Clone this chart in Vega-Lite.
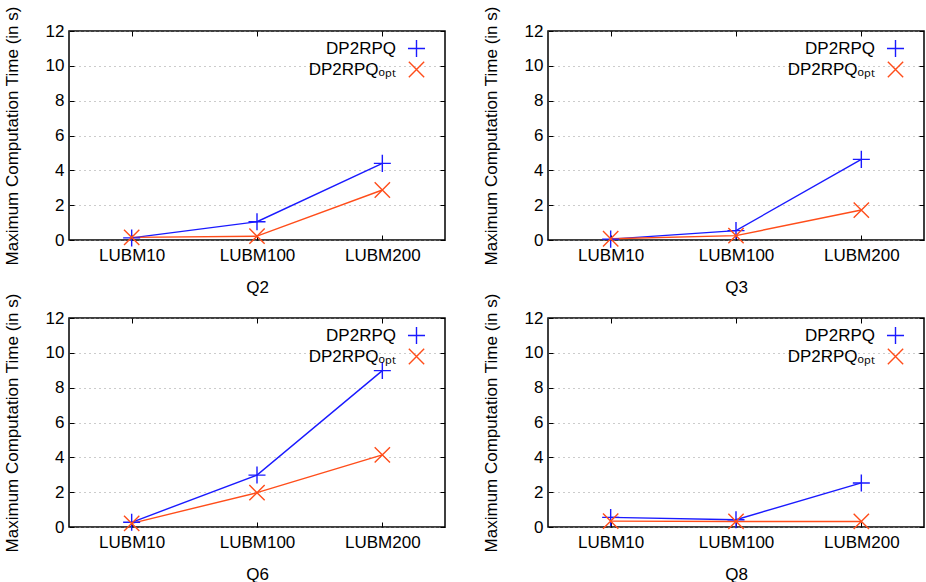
{
  "$schema": "https://vega.github.io/schema/vega-lite/v6.json",
  "padding": {"left": 2, "top": 5, "right": 0, "bottom": 0},
  "background": "white",
  "config": {
    "font": "Liberation Sans",
    "view": {"stroke": "black", "strokeWidth": 1.5},
    "axis": {
      "labelFont": "Liberation Sans",
      "titleFont": "Liberation Sans",
      "labelFontSize": 17,
      "titleFontSize": 17,
      "titleFontWeight": "normal",
      "labelColor": "black",
      "titleColor": "black",
      "domain": false,
      "tickColor": "black",
      "tickSize": -5,
      "tickWidth": 1
    },
    "axisX": {"labelPadding": 12, "titlePadding": 16, "grid": false, "labelAngle": 0},
    "axisY": {
      "labelPadding": 10,
      "titlePadding": 24,
      "gridColor": "#999999",
      "gridDash": [1, 4],
      "gridWidth": 1
    },
    "legend": {
      "orient": "none",
      "legendX": 338,
      "legendY": 8,
      "labelFont": "Liberation Sans",
      "labelFontSize": 17,
      "labelColor": "black",
      "labelAlign": "right",
      "labelOffset": -30,
      "rowPadding": -8,
      "symbolSize": 290,
      "symbolStrokeWidth": 1.4,
      "title": null,
      "padding": 0
    }
  },
  "data": {
    "values": [
      {"q": "Q2", "db": "LUBM10", "method": "DP2RPQ", "t": 0.12},
      {"q": "Q2", "db": "LUBM100", "method": "DP2RPQ", "t": 1.05},
      {"q": "Q2", "db": "LUBM200", "method": "DP2RPQ", "t": 4.4},
      {"q": "Q2", "db": "LUBM10", "method": "DP2RPQopt", "t": 0.15},
      {"q": "Q2", "db": "LUBM100", "method": "DP2RPQopt", "t": 0.22},
      {"q": "Q2", "db": "LUBM200", "method": "DP2RPQopt", "t": 2.87},
      {"q": "Q3", "db": "LUBM10", "method": "DP2RPQ", "t": 0.05},
      {"q": "Q3", "db": "LUBM100", "method": "DP2RPQ", "t": 0.54},
      {"q": "Q3", "db": "LUBM200", "method": "DP2RPQ", "t": 4.63},
      {"q": "Q3", "db": "LUBM10", "method": "DP2RPQopt", "t": 0.07},
      {"q": "Q3", "db": "LUBM100", "method": "DP2RPQopt", "t": 0.25},
      {"q": "Q3", "db": "LUBM200", "method": "DP2RPQopt", "t": 1.72},
      {"q": "Q6", "db": "LUBM10", "method": "DP2RPQ", "t": 0.27},
      {"q": "Q6", "db": "LUBM100", "method": "DP2RPQ", "t": 2.98},
      {"q": "Q6", "db": "LUBM200", "method": "DP2RPQ", "t": 8.98},
      {"q": "Q6", "db": "LUBM10", "method": "DP2RPQopt", "t": 0.21},
      {"q": "Q6", "db": "LUBM100", "method": "DP2RPQopt", "t": 1.97},
      {"q": "Q6", "db": "LUBM200", "method": "DP2RPQopt", "t": 4.14},
      {"q": "Q8", "db": "LUBM10", "method": "DP2RPQ", "t": 0.55},
      {"q": "Q8", "db": "LUBM100", "method": "DP2RPQ", "t": 0.42},
      {"q": "Q8", "db": "LUBM200", "method": "DP2RPQ", "t": 2.53},
      {"q": "Q8", "db": "LUBM10", "method": "DP2RPQopt", "t": 0.34},
      {"q": "Q8", "db": "LUBM100", "method": "DP2RPQopt", "t": 0.32},
      {"q": "Q8", "db": "LUBM200", "method": "DP2RPQopt", "t": 0.32}
    ]
  },
  "columns": 2,
  "bounds": "flush",
  "spacing": {"row": 78, "column": 103},
  "resolve": {"scale": {"color": "independent", "shape": "independent"}},
  "concat": [
    {
      "width": 376, "height": 209,
      "transform": [{"filter": "datum.q === 'Q2'"}],
      "encoding": {
        "color": {"field": "method", "type": "nominal", "scale": {"domain": ["DP2RPQ", "DP2RPQopt"], "range": ["#1a1aff", "#ff4d1a"]}, "legend": {"labelExpr": "datum.label === 'DP2RPQopt' ? 'DP2RPQₒₚₜ' : datum.label"}}
      },
      "resolve": {"axis": {"x": "independent", "y": "independent"}},
      "layer": [
        {"mark": {"type": "line", "strokeWidth": 1.4},
         "encoding": {
           "x": {"field": "db", "type": "ordinal", "sort": ["LUBM10", "LUBM100", "LUBM200"], "scale": {"type": "point", "padding": 0.5}, "title": "Q2"},
           "y": {"field": "t", "type": "quantitative", "scale": {"domain": [0, 12]}, "axis": {"values": [0, 2, 4, 6, 8, 10, 12]}, "title": "Maximum Computation Time (in s)"}
         }},
        {"mark": {"type": "point", "filled": false, "size": 290, "strokeWidth": 1.4, "opacity": 1},
         "encoding": {
           "x": {"field": "db", "type": "ordinal", "sort": ["LUBM10", "LUBM100", "LUBM200"], "scale": {"type": "point", "padding": 0.5}, "axis": {"orient": "top", "labels": false, "title": null}},
           "y": {"field": "t", "type": "quantitative", "scale": {"domain": [0, 12]}, "axis": {"orient": "right", "values": [0, 2, 4, 6, 8, 10, 12], "labels": false, "grid": false, "title": null}},
           "shape": {"field": "method", "type": "nominal", "scale": {"domain": ["DP2RPQ", "DP2RPQopt"], "range": ["M-1,0L1,0M0,-1L0,1", "M-0.9,-0.9L0.9,0.9M-0.9,0.9L0.9,-0.9"]}, "legend": {"labelExpr": "datum.label === 'DP2RPQopt' ? 'DP2RPQₒₚₜ' : datum.label"}}}}
      ]
    },
    {
      "width": 376, "height": 209,
      "transform": [{"filter": "datum.q === 'Q3'"}],
      "encoding": {
        "color": {"field": "method", "type": "nominal", "scale": {"domain": ["DP2RPQ", "DP2RPQopt"], "range": ["#1a1aff", "#ff4d1a"]}, "legend": {"labelExpr": "datum.label === 'DP2RPQopt' ? 'DP2RPQₒₚₜ' : datum.label"}}
      },
      "resolve": {"axis": {"x": "independent", "y": "independent"}},
      "layer": [
        {"mark": {"type": "line", "strokeWidth": 1.4},
         "encoding": {
           "x": {"field": "db", "type": "ordinal", "sort": ["LUBM10", "LUBM100", "LUBM200"], "scale": {"type": "point", "padding": 0.5}, "title": "Q3"},
           "y": {"field": "t", "type": "quantitative", "scale": {"domain": [0, 12]}, "axis": {"values": [0, 2, 4, 6, 8, 10, 12]}, "title": "Maximum Computation Time (in s)"}
         }},
        {"mark": {"type": "point", "filled": false, "size": 290, "strokeWidth": 1.4, "opacity": 1},
         "encoding": {
           "x": {"field": "db", "type": "ordinal", "sort": ["LUBM10", "LUBM100", "LUBM200"], "scale": {"type": "point", "padding": 0.5}, "axis": {"orient": "top", "labels": false, "title": null}},
           "y": {"field": "t", "type": "quantitative", "scale": {"domain": [0, 12]}, "axis": {"orient": "right", "values": [0, 2, 4, 6, 8, 10, 12], "labels": false, "grid": false, "title": null}},
           "shape": {"field": "method", "type": "nominal", "scale": {"domain": ["DP2RPQ", "DP2RPQopt"], "range": ["M-1,0L1,0M0,-1L0,1", "M-0.9,-0.9L0.9,0.9M-0.9,0.9L0.9,-0.9"]}, "legend": {"labelExpr": "datum.label === 'DP2RPQopt' ? 'DP2RPQₒₚₜ' : datum.label"}}}}
      ]
    },
    {
      "width": 376, "height": 209,
      "transform": [{"filter": "datum.q === 'Q6'"}],
      "encoding": {
        "color": {"field": "method", "type": "nominal", "scale": {"domain": ["DP2RPQ", "DP2RPQopt"], "range": ["#1a1aff", "#ff4d1a"]}, "legend": {"labelExpr": "datum.label === 'DP2RPQopt' ? 'DP2RPQₒₚₜ' : datum.label"}}
      },
      "resolve": {"axis": {"x": "independent", "y": "independent"}},
      "layer": [
        {"mark": {"type": "line", "strokeWidth": 1.4},
         "encoding": {
           "x": {"field": "db", "type": "ordinal", "sort": ["LUBM10", "LUBM100", "LUBM200"], "scale": {"type": "point", "padding": 0.5}, "title": "Q6"},
           "y": {"field": "t", "type": "quantitative", "scale": {"domain": [0, 12]}, "axis": {"values": [0, 2, 4, 6, 8, 10, 12]}, "title": "Maximum Computation Time (in s)"}
         }},
        {"mark": {"type": "point", "filled": false, "size": 290, "strokeWidth": 1.4, "opacity": 1},
         "encoding": {
           "x": {"field": "db", "type": "ordinal", "sort": ["LUBM10", "LUBM100", "LUBM200"], "scale": {"type": "point", "padding": 0.5}, "axis": {"orient": "top", "labels": false, "title": null}},
           "y": {"field": "t", "type": "quantitative", "scale": {"domain": [0, 12]}, "axis": {"orient": "right", "values": [0, 2, 4, 6, 8, 10, 12], "labels": false, "grid": false, "title": null}},
           "shape": {"field": "method", "type": "nominal", "scale": {"domain": ["DP2RPQ", "DP2RPQopt"], "range": ["M-1,0L1,0M0,-1L0,1", "M-0.9,-0.9L0.9,0.9M-0.9,0.9L0.9,-0.9"]}, "legend": {"labelExpr": "datum.label === 'DP2RPQopt' ? 'DP2RPQₒₚₜ' : datum.label"}}}}
      ]
    },
    {
      "width": 376, "height": 209,
      "transform": [{"filter": "datum.q === 'Q8'"}],
      "encoding": {
        "color": {"field": "method", "type": "nominal", "scale": {"domain": ["DP2RPQ", "DP2RPQopt"], "range": ["#1a1aff", "#ff4d1a"]}, "legend": {"labelExpr": "datum.label === 'DP2RPQopt' ? 'DP2RPQₒₚₜ' : datum.label"}}
      },
      "resolve": {"axis": {"x": "independent", "y": "independent"}},
      "layer": [
        {"mark": {"type": "line", "strokeWidth": 1.4},
         "encoding": {
           "x": {"field": "db", "type": "ordinal", "sort": ["LUBM10", "LUBM100", "LUBM200"], "scale": {"type": "point", "padding": 0.5}, "title": "Q8"},
           "y": {"field": "t", "type": "quantitative", "scale": {"domain": [0, 12]}, "axis": {"values": [0, 2, 4, 6, 8, 10, 12]}, "title": "Maximum Computation Time (in s)"}
         }},
        {"mark": {"type": "point", "filled": false, "size": 290, "strokeWidth": 1.4, "opacity": 1},
         "encoding": {
           "x": {"field": "db", "type": "ordinal", "sort": ["LUBM10", "LUBM100", "LUBM200"], "scale": {"type": "point", "padding": 0.5}, "axis": {"orient": "top", "labels": false, "title": null}},
           "y": {"field": "t", "type": "quantitative", "scale": {"domain": [0, 12]}, "axis": {"orient": "right", "values": [0, 2, 4, 6, 8, 10, 12], "labels": false, "grid": false, "title": null}},
           "shape": {"field": "method", "type": "nominal", "scale": {"domain": ["DP2RPQ", "DP2RPQopt"], "range": ["M-1,0L1,0M0,-1L0,1", "M-0.9,-0.9L0.9,0.9M-0.9,0.9L0.9,-0.9"]}, "legend": {"labelExpr": "datum.label === 'DP2RPQopt' ? 'DP2RPQₒₚₜ' : datum.label"}}}}
      ]
    }
  ]
}
